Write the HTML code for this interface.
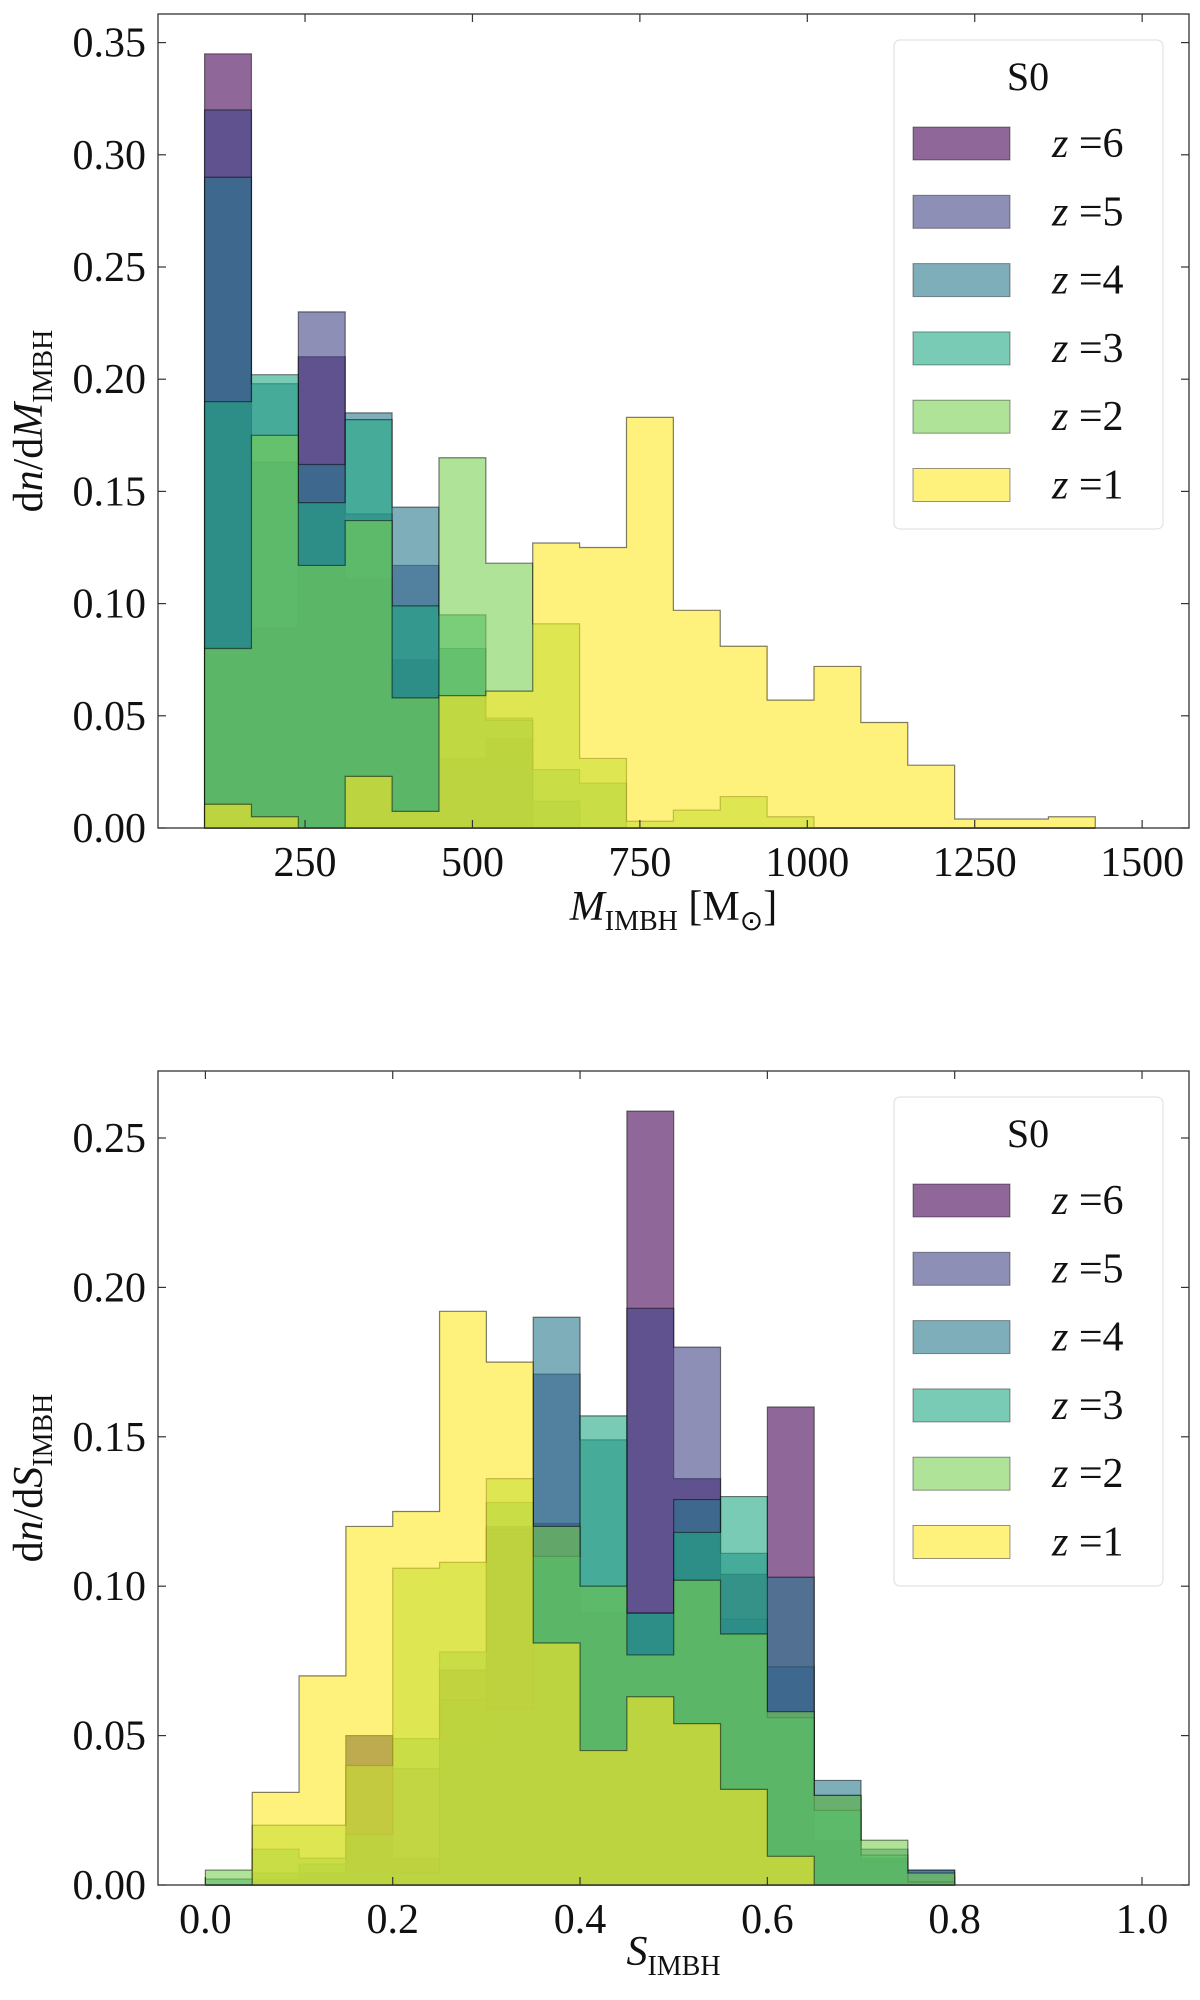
<!DOCTYPE html>
<html><head><meta charset="utf-8"><style>
body{margin:0;background:#fff}
svg text{font-family:"Liberation Serif",serif;fill:#111}
</style></head><body>
<svg id="fig" width="1200" height="1995" xmlns="http://www.w3.org/2000/svg"></svg>
<script>
const zLabels=["6","5","4","3","2","1"];
const colors=["#440154","#414487","#2a788e","#22a884","#7ad151","#fde725"];
const massEdgesStart=100, massBinWidth=70;
const massZ6=[0.345,0.089,0.21,0.111,0.075,0.031,0.04,0,0,0,0,0,0,0,0,0,0,0,0];
const massZ5=[0.32,0.163,0.23,0.14,0.117,0.031,0.031,0,0,0,0,0,0,0,0,0,0,0,0];
const massZ4=[0.29,0.198,0.162,0.185,0.143,0.08,0.049,0.012,0,0,0,0,0,0,0,0,0,0,0];
const massZ3=[0.19,0.202,0.145,0.182,0.099,0.095,0.048,0.026,0.02,0,0,0,0,0,0,0,0,0,0];
const massZ2=[0.08,0.175,0.117,0.137,0.058,0.165,0.118,0.091,0.031,0.003,0.008,0.014,0.005,0,0,0,0,0,0];
const massZ1=[0.0106,0.005,0,0.023,0.0074,0.059,0.061,0.127,0.125,0.183,0.097,0.081,0.057,0.072,0.047,0.028,0.004,0.004,0.005];
const massXTicks=[250,500,750,1000,1250,1500];
const massYTicks=[0,0.05,0.1,0.15,0.2,0.25,0.3,0.35];
const spinEdgesStart=0, spinBinWidth=0.05;
const spinZ6=[0,0.001,0.002,0.05,0.009,0.072,0.12,0.121,0.091,0.259,0.136,0.104,0.16,0.015,0.009,0.001];
const spinZ5=[0,0.002,0.004,0.05,0.039,0.045,0.119,0.171,0.1,0.193,0.18,0.089,0.073,0.03,0.008,0.005];
const spinZ4=[0,0.004,0.007,0.005,0.004,0.062,0.059,0.19,0.149,0.091,0.129,0.111,0.103,0.035,0.012,0.005];
const spinZ3=[0.002,0.012,0.009,0.017,0.049,0.078,0.128,0.11,0.157,0.091,0.118,0.13,0.056,0.025,0.01,0.001];
const spinZ2=[0.005,0.02,0.02,0.04,0.106,0.108,0.136,0.12,0.1,0.077,0.102,0.084,0.058,0.03,0.015,0.004];
const spinZ1=[0,0.031,0.07,0.12,0.125,0.192,0.175,0.081,0.045,0.063,0.054,0.032,0.0096,0,0,0];
const spinXTicks=[0,0.2,0.4,0.6,0.8,1.0];
const spinYTicks=[0,0.05,0.1,0.15,0.2,0.25];

const NS="http://www.w3.org/2000/svg";
const svg=document.getElementById('fig');
function mk(tag,attrs,parent){const e=document.createElementNS(NS,tag);for(const k in attrs)e.setAttribute(k,attrs[k]);(parent||svg).appendChild(e);return e;}

function panel(o){
  const g=mk('g',{});
  
  
  const X=v=>o.L+(v-o.x0)/(o.x1-o.x0)*(o.R-o.L);
  const Y=v=>o.B-(v-o.y0)/(o.y1-o.y0)*(o.B-o.T);
  o.series.forEach((vals,si)=>{
    let d='M'+X(o.start)+','+Y(0);
    vals.forEach((v,i)=>{const a=o.start+i*o.w,b=a+o.w;d+=' L'+X(a)+','+Y(v)+' L'+X(b)+','+Y(v);});
    d+=' L'+X(o.start+vals.length*o.w)+','+Y(0)+' Z';
    const p=mk('path',{d:d,fill:colors[si],'fill-opacity':0.6,stroke:'#000','stroke-opacity':0.5,'stroke-width':1.2},g);
    
    
  });
  const fr=mk('rect',{x:o.L,y:o.T,width:o.R-o.L,height:o.B-o.T,fill:'none',stroke:'#333','stroke-width':1.3},g);
  
  
  o.xt.forEach(t=>{const x=X(t);
    mk('line',{x1:x,x2:x,y1:o.B,y2:o.B-8,stroke:'#333','stroke-width':1.2},g);
    mk('line',{x1:x,x2:x,y1:o.T,y2:o.T+8,stroke:'#333','stroke-width':1.2},g);
    const tx=mk('text',{x:x,y:o.B+48,'font-size':42,'text-anchor':'middle'},g);tx.textContent=o.fmtx(t);
    
    });
  o.yt.forEach(t=>{const y=Y(t);
    mk('line',{x1:o.L,x2:o.L+8,y1:y,y2:y,stroke:'#333','stroke-width':1.2},g);
    mk('line',{x1:o.R,x2:o.R-8,y1:y,y2:y,stroke:'#333','stroke-width':1.2},g);
    const tx=mk('text',{x:o.L-12,y:y+14,'font-size':42,'text-anchor':'end'},g);tx.textContent=t.toFixed(2);
    
    });
  const lg=mk('g',{},g);
  
  
  mk('rect',{x:894,y:o.legT,width:269,height:489,rx:6,fill:'#fff','fill-opacity':0.85,stroke:'#ddd'},lg);
  const tt=mk('text',{x:1028,y:o.legT+50,'font-size':40,'text-anchor':'middle'},lg);tt.textContent='S0';
  
  
  zLabels.forEach((z,i)=>{const y=o.legT+87+i*68.3;
    const r=mk('rect',{x:913,y:y,width:97,height:33,fill:colors[i],'fill-opacity':0.6,stroke:'#000','stroke-opacity':0.4},lg);
    
    
    const t=mk('text',{x:1052,y:y+30,'font-size':42},lg);
    t.innerHTML='<tspan font-style="italic">z</tspan> =' + z;
    
    });
  const yl=mk('text',{x:0,y:0,'font-size':42,'text-anchor':'middle',transform:'translate(42,'+((o.T+o.B)/2)+') rotate(-90)'},g);
  yl.innerHTML=o.ylab;
  
  
  const xl=mk('text',{x:(o.L+o.R)/2,y:o.xlabY,'font-size':42,'text-anchor':'middle'},g);
  xl.innerHTML=o.xlab;
  
  
}
panel({name:'mass-histogram-panel',L:158,R:1189,T:14,B:828,x0:(158-137.6)/0.6697,x1:(1189-137.6)/0.6697,y0:0,y1:(828-14)/112.2*0.05,
  start:massEdgesStart,w:massBinWidth,series:[massZ6,massZ5,massZ4,massZ3,massZ2,massZ1],xt:massXTicks,yt:massYTicks,fmtx:t=>String(t),
  legT:40,ylab:'d<tspan font-style="italic">n</tspan>/d<tspan font-style="italic">M</tspan><tspan font-size="28" dy="10">IMBH</tspan>',
  xlab:'<tspan font-style="italic">M</tspan><tspan font-size="28" dy="10">IMBH</tspan><tspan dy="-10"> [M</tspan><tspan font-size="28" dy="10">⊙</tspan><tspan dy="-10">]</tspan>',xlabY:920});
panel({name:'spin-histogram-panel',L:158,R:1189,T:1071,B:1885,x0:(158-205.4)/936.6,x1:(1189-205.4)/936.6,y0:0,y1:(1885-1071)/149.4*0.05,
  start:spinEdgesStart,w:spinBinWidth,series:[spinZ6,spinZ5,spinZ4,spinZ3,spinZ2,spinZ1],xt:spinXTicks,yt:spinYTicks,fmtx:t=>t.toFixed(1),
  legT:1097,ylab:'d<tspan font-style="italic">n</tspan>/d<tspan font-style="italic">S</tspan><tspan font-size="28" dy="10">IMBH</tspan>',
  xlab:'<tspan font-style="italic">S</tspan><tspan font-size="28" dy="10">IMBH</tspan>',xlabY:1965});
</script>
</body></html>
